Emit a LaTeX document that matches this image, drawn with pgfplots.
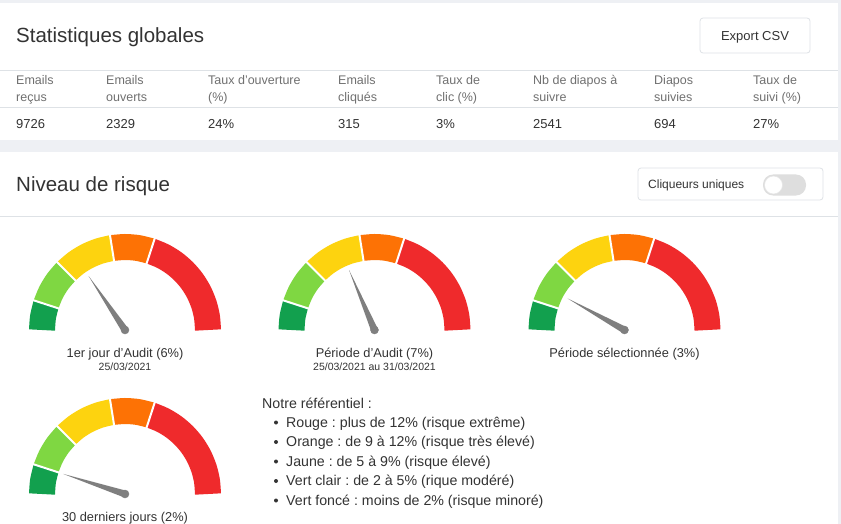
\documentclass[border=0pt]{standalone}
\usepackage{pgfplots}
\pgfplotsset{compat=1.18}
\usepackage{fontspec}
\setmainfont{Liberation Sans}
\frenchspacing
\definecolor{bg}{HTML}{EEF0F4}
\definecolor{sep}{HTML}{DEE2E6}
\definecolor{txt}{HTML}{333333}
\definecolor{hdr}{HTML}{707070}
\definecolor{gDark}{HTML}{12A04E}
\definecolor{gLight}{HTML}{7FD742}
\definecolor{gYellow}{HTML}{FDD30F}
\definecolor{gOrange}{HTML}{FD7205}
\definecolor{gRed}{HTML}{EF2A2C}
\definecolor{needle}{HTML}{7F7F7F}
\newcommand{\fs}[1]{\fontsize{#1}{#1}\selectfont}
\pgfplotsset{
  seg/.style={data cs=polar, line width=26pt, smooth, line cap=butt},
  gap/.style={data cs=polar, white, line width=2pt},
}
% #1 x centre, #2 y centre (px from top), #3 needle angle, #4 #3+90, #5 #3-90
\newcommand{\gauge}[5]{%
\begin{axis}[at={(#1,-#2)}, anchor=origin, x=1pt, y=1pt, hide axis,
  xmin=-100, xmax=100, ymin=-10, ymax=100, clip=false]
\addplot[seg, gDark]   coordinates {(180,83) (171,83) (162,83)};
\addplot[seg, gLight]  coordinates {(162,83) (153,83) (144,83) (135,83)};
\addplot[seg, gYellow] coordinates {(135,83) (126,83) (117,83) (108,83) (99,83)};
\addplot[seg, gOrange] coordinates {(99,83) (90,83) (81,83) (72,83)};
\addplot[seg, gRed]    coordinates {(72,83) (63,83) (54,83) (45,83) (36,83) (27,83) (18,83) (9,83) (0,83)};
\addplot[gap] coordinates {(162,68) (162,98)};
\addplot[gap] coordinates {(135,68) (135,98)};
\addplot[gap] coordinates {(99,68) (99,98)};
\addplot[gap] coordinates {(72,68) (72,98)};
\addplot[data cs=polar, draw=none, fill=needle] coordinates {(#3,65) (#4,3.5) (#5,3.5)};
\addplot[data cs=polar, only marks, mark=*, mark size=4pt, needle] coordinates {(0,0)};
\end{axis}}
\begin{document}
\begin{tikzpicture}[x=1pt,y=1pt]
\useasboundingbox (0,0) rectangle (841,-524);
\fill[bg] (0,0) rectangle (841,-524);
% cards
\fill[white] (0,-3) rectangle (838,-140);
\fill[white] (0,-152) rectangle (838,-530);
\draw[sep, line width=0.8pt] (0,-70) -- (838,-70);
\draw[sep, line width=0.8pt] (0,-107) -- (838,-107);
\draw[sep, line width=0.8pt] (0,-216) -- (838,-216);
% titles
\node[anchor=base west, inner sep=0, text=txt] at (16,-43) {\fs{20.5}Statistiques globales};
\node[anchor=base west, inner sep=0, text=txt] at (16,-191) {\fs{20.5}Niveau de risque};
% export button
\draw[sep, line width=0.8pt, rounded corners=3pt] (700,-18) rectangle (810,-53);
\node[anchor=base, inner sep=0, text=txt] at (755,-41) {\fs{13}Export CSV};
% toggle box
\draw[sep, line width=0.8pt, rounded corners=3pt] (638,-168) rectangle (823,-200);
\node[anchor=base west, inner sep=0, text=txt] at (648,-188.5) {\fs{12}Cliqueurs uniques};
\fill[black!13, rounded corners=10pt] (763,-174.5) rectangle (806,-195.5);
\fill[white] (773.5,-185) circle (9);
\draw[black!10, line width=0.5pt] (773.5,-185) circle (9);
% table header
\foreach \x/\a/\b in {16/Emails/reçus, 106/Emails/ouverts, 208/Taux d'ouverture/(\%), 338/Emails/cliqués, 436/Taux de/clic (\%), 533/Nb de diapos à/suivre, 654/Diapos/suivies, 753/Taux de/suivi (\%)}{
  \node[anchor=base west, inner sep=0, text=hdr] at (\x,-85) {\fs{12.5}\a};
  \node[anchor=base west, inner sep=0, text=hdr] at (\x,-102) {\fs{12.5}\b};
}
\foreach \x/\v in {16/9726, 106/2329, 208/24\%, 338/315, 436/3\%, 533/2541, 654/694, 753/27\%}{
  \node[anchor=base west, inner sep=0, text=txt] at (\x,-129) {\fs{13}\v};
}
% gauges
\gauge{125}{330}{124}{214}{34}
\gauge{374.5}{330}{113}{203}{23}
\gauge{624.5}{330}{151}{241}{61}
\gauge{125}{494}{162}{252}{72}
% gauge labels
\node[anchor=base, inner sep=0, text=txt] at (125,-357) {\fs{12.8}1er jour d'Audit (6\%)};
\node[anchor=base, inner sep=0, text=txt] at (125,-370) {\fs{10.5}25/03/2021};
\node[anchor=base, inner sep=0, text=txt] at (374.5,-357) {\fs{12.8}Période d'Audit (7\%)};
\node[anchor=base, inner sep=0, text=txt] at (374.5,-370) {\fs{10.5}25/03/2021 au 31/03/2021};
\node[anchor=base, inner sep=0, text=txt] at (624.5,-357) {\fs{12.8}Période sélectionnée (3\%)};
\node[anchor=base, inner sep=0, text=txt] at (125,-521) {\fs{12.8}30 derniers jours (2\%)};
% legend
\node[anchor=base west, inner sep=0, text=txt] at (262,-408) {\fs{14.2}Notre référentiel :};
\foreach \y/\t in {427/Rouge : plus de 12\% (risque extrême), 446.5/Orange : de 9 à 12\% (risque très élevé), 466/Jaune : de 5 à 9\% (risque élevé), 485.5/Vert clair : de 2 à 5\% (rique modéré), 505/Vert foncé : moins de 2\% (risque minoré)}{
  \fill[txt] (276,-\y+4.5) circle (2);
  \node[anchor=base west, inner sep=0, text=txt] at (286,-\y) {\fs{14.2}\t};
}
\end{tikzpicture}
\end{document}
